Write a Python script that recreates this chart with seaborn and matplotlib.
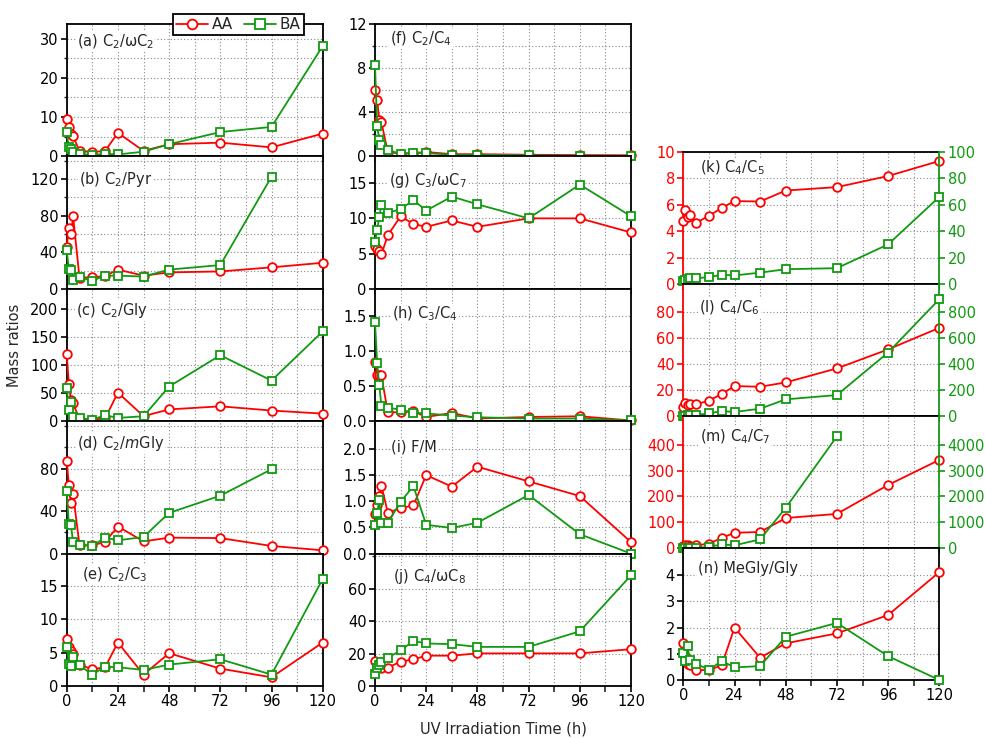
import numpy as np
import matplotlib
matplotlib.use("Agg")
import matplotlib.pyplot as plt
from matplotlib.lines import Line2D
from matplotlib.ticker import FixedLocator, MultipleLocator, FormatStrFormatter, NullLocator
import seaborn as sns

sns.set_theme(style="ticks")
plt.rcParams['font.family'] = ['DejaVu Sans']
plt.rcParams['mathtext.fontset'] = 'dejavusans'

nan = np.nan

# UV irradiation time (h)
hours = [0, 1, 2, 3, 6, 12, 18, 24, 36, 48, 72, 96, 120]
x_ticks = [0, 24, 48, 72, 96, 120]

# Mass ratios, AA and BA aerosol
aa_a = [9.4, 7.4, 5.6, 5.1, 1.4, 1.1, 1.4, 6.0, 1.4, 3.1, 3.5, 2.3, 5.8]
ba_a = [6.2, 2.3, 1.8, 1.2, 0.7, 0.3, 0.7, 0.5, 1.2, 3.1, 6.2, 7.5, 28.1]

aa_b = [45.8, 66.8, 59.6, 79.4, 12.0, 12.6, 14.0, 21.0, 14.4, 18.0, 19.0, 23.5, 28.5]
ba_b = [42.0, 21.7, 21.0, 10.0, 12.6, 9.0, 14.4, 14.4, 13.4, 21.0, 26.0, 122.7, nan]

aa_c = [120.6, 66.0, 38.0, 32.0, 3.0, 3.0, 5.0, 51.0, 9.0, 21.0, 26.5, 19.0, 13.5]
ba_c = [59.0, 20.6, 33.5, 7.6, 5.3, 3.0, 10.6, 5.9, 8.8, 61.8, 117.6, 72.4, 160.0]

aa_d = [87.0, 65.0, 47.3, 56.0, 7.8, 7.8, 11.0, 25.5, 11.5, 15.0, 14.6, 7.2, 3.1]
ba_d = [58.5, 28.0, 26.5, 11.0, 8.4, 7.2, 15.0, 12.5, 15.6, 38.3, 54.5, 79.4, nan]

aa_e = [7.1, 5.8, 5.3, 4.8, 3.2, 2.5, 2.8, 6.5, 1.7, 4.9, 2.6, 1.3, 6.5]
ba_e = [5.9, 3.3, 3.0, 4.4, 3.1, 1.7, 2.9, 2.8, 2.4, 3.2, 4.0, 1.7, 16.0]

aa_f = [6.0, 5.1, 3.3, 3.1, 0.4, 0.25, 0.3, 0.4, 0.2, 0.2, 0.15, 0.12, 0.1]
ba_f = [8.3, 2.75, 1.5, 1.0, 0.56, 0.25, 0.3, 0.3, 0.15, 0.15, 0.1, 0.05, 0.05]

aa_g = [6.1, 5.6, 5.3, 4.9, 7.6, 10.3, 9.2, 8.8, 9.7, 8.8, 10.0, 10.0, 8.0]
ba_g = [6.7, 8.3, 10.2, 11.9, 10.8, 11.3, 12.6, 11.1, 13.1, 12.0, 10.0, 14.8, 10.3]

aa_h = [0.845, 0.66, 0.66, 0.65, 0.127, 0.127, 0.14, 0.06, 0.117, 0.038, 0.06, 0.07, 0.01]
ba_h = [1.41, 0.83, 0.51, 0.22, 0.19, 0.165, 0.12, 0.11, 0.08, 0.056, 0.038, 0.038, 0.01]

aa_i = [0.75, 0.92, 1.1, 1.3, 0.78, 0.87, 0.92, 1.5, 1.28, 1.66, 1.38, 1.1, 0.22]
ba_i = [0.55, 0.78, 1.02, 0.59, 0.59, 0.99, 1.29, 0.55, 0.49, 0.59, 1.12, 0.37, 0.0]

aa_j = [15.4, 12.0, 11.5, 11.0, 11.4, 15.0, 16.4, 18.7, 18.7, 20.1, 20.1, 20.1, 22.7]
ba_j = [7.1, 10.8, 12.8, 14.8, 17.4, 21.9, 27.8, 26.2, 25.8, 24.1, 24.1, 33.7, 68.2]

aa_k = [4.74, 5.57, 5.1, 5.26, 4.64, 5.16, 5.76, 6.28, 6.25, 7.08, 7.34, 8.18, 9.32]
ba_k = [2.6, 3.4, 4.0, 4.4, 4.4, 5.2, 7.0, 6.5, 8.6, 11.2, 12.0, 30.0, 66.0]

aa_l = [7.2, 10.2, 8.4, 9.0, 9.0, 11.8, 16.9, 23.0, 22.5, 25.8, 36.6, 51.2, 67.8]
ba_l = [0.0, 0.0, 5.0, 5.0, 8.0, 20.0, 38.0, 31.0, 56.0, 128.0, 161.0, 488.0, 898.0]

aa_m = [8.0, 10.0, 10.0, 8.0, 10.0, 17.0, 39.0, 59.0, 62.0, 116.0, 132.0, 244.0, 341.0]
ba_m = [0.0, 0.0, 0.0, 0.0, 13.0, 39.0, 141.0, 103.0, 334.0, 1555.0, 4320.0, nan, nan]

aa_n = [1.40, 0.90, 0.63, 0.56, 0.38, 0.38, 0.56, 2.0, 0.85, 1.40, 1.78, 2.48, 4.12]
ba_n = [1.03, 0.73, 1.30, 0.75, 0.63, 0.38, 0.73, 0.48, 0.53, 1.65, 2.18, 0.91, 0.0]

panel_titles = [
    r"(a) C$_2$/ωC$_2$", r"(b) C$_2$/Pyr", r"(c) C$_2$/Gly", r"(d) C$_2$/$\it{m}$Gly",
    r"(e) C$_2$/C$_3$", r"(f) C$_2$/C$_4$", r"(g) C$_3$/ωC$_7$", r"(h) C$_3$/C$_4$",
    r"(i) F/M", r"(j) C$_4$/ωC$_8$", r"(k) C$_4$/C$_5$", r"(l) C$_4$/C$_6$",
    r"(m) C$_4$/C$_7$", "(n) MeGly/Gly",
]
series_labels = ["AA", "BA"]

RED = "#ff0000"
GREEN = "#119a11"

W, H = 985, 738
fig = plt.figure(figsize=(W / 100, H / 100), dpi=100)

def rect(left_px, top_px, width_px, height_px):
    return [left_px / W, 1 - (top_px + height_px) / H, width_px / W, height_px / H]

# panel layout: column left edges (px), panel width and heights
col_left = [66.7, 375.0, 683.3]
ax_w = 256.0
h12 = 132.4
h3 = 132.0

# per-panel: data, y-limit, major ticks, minor step, title position, twin scale, format
panels = [
    (aa_a, ba_a, 33.7, [0, 10, 20, 30], 5, (0.04, 0.864), None, "%g"),
    (aa_b, ba_b, 145, [0, 40, 80, 120], 20, (0.048, 0.826), None, "%g"),
    (aa_c, ba_c, 236, [0, 50, 100, 150, 200], None, (0.036, 0.836), None, "%g"),
    (aa_d, ba_d, 124.6, [0, 40, 80], 20, (0.04, 0.83), None, "%g"),
    (aa_e, ba_e, 19.8, [0, 5, 10, 15], None, (0.06, 0.837), None, "%g"),
    (aa_f, ba_f, 12, [0, 4, 8, 12], 2, (0.059, 0.887), None, "%g"),
    (aa_g, ba_g, 18.8, [0, 5, 10, 15], None, (0.055, 0.82), None, "%g"),
    (aa_h, ba_h, 1.88, [0, 0.5, 1.0, 1.5], None, (0.067, 0.81), None, "%.1f"),
    (aa_i, ba_i, 2.53, [0, 0.5, 1.0, 1.5, 2.0], None, (0.062, 0.806), None, "%.1f"),
    (aa_j, ba_j, 81.6, [0, 20, 40, 60], 20, (0.07, 0.83), None, "%g"),
    (aa_k, ba_k, 10, [0, 2, 4, 6, 8, 10], None, (0.066, 0.877), 10, "%g"),
    (aa_l, ba_l, 101.5, [0, 20, 40, 60, 80], None, (0.062, 0.823), 10, "%g"),
    (aa_m, ba_m, 511, [0, 100, 200, 300, 400], None, (0.066, 0.846), 10, "%g"),
    (aa_n, ba_n, 5.04, [0, 1, 2, 3, 4], None, (0.058, 0.848), None, "%g"),
]

positions = []
for i in range(5):
    positions.append(rect(col_left[0], 24 + h12 * i, ax_w, h12))
for i in range(5):
    positions.append(rect(col_left[1], 24 + h12 * i, ax_w, h12))
for i in range(4):
    positions.append(rect(col_left[2], 152 + h3 * i, ax_w, h3))
bottom_panels = {4, 9, 13}

line_kw = dict(linewidth=1.3, markersize=6.2, markeredgewidth=1.3,
               markerfacecolor="white", clip_on=False, errorbar=None)

def style_axis(ax, spine_w=1.3):
    for s in ax.spines.values():
        s.set_linewidth(spine_w)
        s.set_color("black")

for idx, (aa, ba, ymax, majors, minor, lpos, twin_scale, fmt) in enumerate(panels):
    ax = fig.add_axes(positions[idx])
    style_axis(ax)
    ax.set_xlim(0, 120)
    ax.set_ylim(0, ymax)
    ax.xaxis.set_major_locator(FixedLocator(x_ticks))
    ax.xaxis.set_minor_locator(MultipleLocator(12))
    ax.yaxis.set_major_locator(FixedLocator(majors))
    if minor:
        ax.yaxis.set_minor_locator(MultipleLocator(minor))
    else:
        ax.yaxis.set_minor_locator(NullLocator())
    ax.yaxis.set_major_formatter(FormatStrFormatter(fmt))
    ax.grid(which="both", axis="both", linestyle=(0, (1, 2)), color="#8a8a8a", linewidth=0.8)
    ax.set_axisbelow(True)
    ax.tick_params(axis="both", which="major", direction="out", length=4, width=1.2,
                   labelsize=10.5, pad=2, colors="black", left=True, bottom=True)
    ax.tick_params(axis="x", which="minor", direction="out", length=4, width=1.2, bottom=True)
    ax.tick_params(axis="y", which="minor", direction="out", length=2.5, width=1.0, left=True)
    ax.tick_params(labelbottom=(idx in bottom_panels))

    sns.lineplot(x=hours, y=aa, ax=ax, color=RED, marker="o", markeredgecolor=RED,
                 zorder=4, **line_kw)
    if twin_scale is None:
        sns.lineplot(x=hours, y=ba, ax=ax, color=GREEN, marker="s", markeredgecolor=GREEN,
                     zorder=5, **line_kw)
    else:
        ax.spines["left"].set_color(RED)
        ax.spines["right"].set_visible(False)
        ax.tick_params(axis="y", which="both", colors=RED)
        tw = ax.twinx()
        for name, s in tw.spines.items():
            s.set_linewidth(1.3)
            s.set_visible(name == "right")
        tw.spines["right"].set_color(GREEN)
        tw.set_ylim(0, ymax * twin_scale)
        tw.yaxis.set_major_locator(FixedLocator([m * twin_scale for m in majors]))
        tw.yaxis.set_minor_locator(NullLocator())
        tw.grid(False)
        tw.tick_params(axis="y", which="major", direction="out", length=4, width=1.2,
                       labelsize=10.5, pad=2, colors=GREEN, right=True)
        sns.lineplot(x=hours, y=ba, ax=tw, color=GREEN, marker="s", markeredgecolor=GREEN,
                     zorder=5, **line_kw)
        tw.set_xlim(0, 120)
        tw.set_xlabel("")
        tw.set_ylabel("")
    ax.set_xlabel("")
    ax.set_ylabel("")
    ax.text(lpos[0], lpos[1], panel_titles[idx], transform=ax.transAxes, fontsize=10.5,
            ha="left", va="center", zorder=3,
            bbox=dict(facecolor="white", edgecolor="none", pad=0.5))

fig.text(15 / W, 1 - 345 / H, "Mass ratios", rotation=90, ha="center", va="center", fontsize=10.5)
fig.text(503 / W, 1 - 729 / H, "UV Irradiation Time (h)", ha="center", va="center", fontsize=10.5)

handles = [
    Line2D([], [], color=RED, marker="o", markerfacecolor="white", markeredgecolor=RED,
           markersize=7, markeredgewidth=1.3, linewidth=1.3),
    Line2D([], [], color=GREEN, marker="s", markerfacecolor="white", markeredgecolor=GREEN,
           markersize=7, markeredgewidth=1.3, linewidth=1.3),
]
leg = fig.legend(handles, series_labels, loc="center", bbox_to_anchor=(238.5 / W, 1 - 24.5 / H),
                 ncol=2, frameon=True, fancybox=False, framealpha=1, edgecolor="black",
                 fontsize=11, handlelength=2.1, handletextpad=0.25, columnspacing=0.7,
                 borderpad=0.2, borderaxespad=0)
leg.get_frame().set_linewidth(1.3)
leg.set_zorder(10)

fig.savefig("out.png", dpi=100)
